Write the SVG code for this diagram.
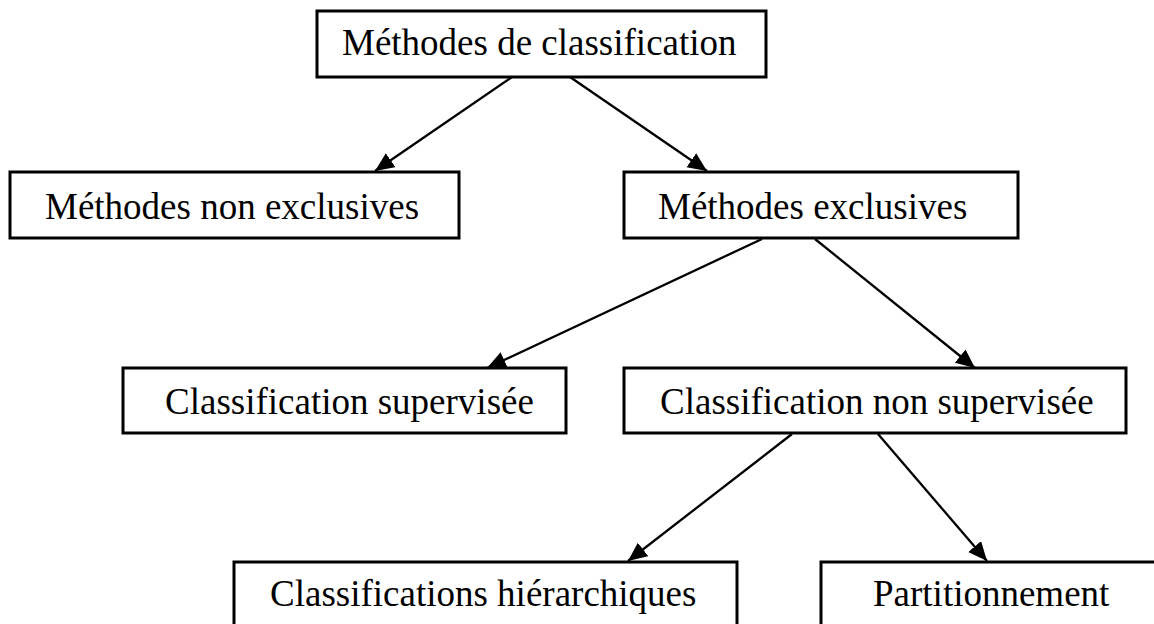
<svg xmlns="http://www.w3.org/2000/svg" width="1154" height="624" viewBox="0 0 1154 624">
  <style>
    .box { fill: #fff; stroke: #000; stroke-width: 3; }
    .lbl { font-family: "Liberation Serif", "Times New Roman", serif; font-size: 37px; fill: #000; }
    .edge { stroke: #000; stroke-width: 2.3; fill: none; marker-end: url(#head); }
  </style>
  <defs>
    <marker id="head" markerUnits="userSpaceOnUse" markerWidth="20" markerHeight="18" refX="19" refY="8.5" orient="auto">
      <path d="M0,0 L19,8.5 L0,17 z" fill="#000"/>
    </marker>
  </defs>
  <rect width="1154" height="624" fill="#fff"/>

  <g id="connectors">
    <line class="edge" x1="512" y1="77" x2="375" y2="171"/>
    <line class="edge" x1="570" y1="77" x2="707" y2="171"/>
    <line class="edge" x1="762" y1="239" x2="487" y2="368"/>
    <line class="edge" x1="815" y1="239" x2="975" y2="368"/>
    <line class="edge" x1="792" y1="434" x2="628" y2="561"/>
    <line class="edge" x1="878" y1="434" x2="987" y2="561"/>
  </g>

  <g id="methodes-classification">
    <rect class="box" x="317" y="11" width="449" height="66"/>
    <text class="lbl" x="342" y="55">Méthodes de classification</text>
  </g>
  <g id="methodes-non-exclusives">
    <rect class="box" x="10" y="172" width="449" height="66"/>
    <text class="lbl" x="45" y="219">Méthodes non exclusives</text>
  </g>
  <g id="methodes-exclusives">
    <rect class="box" x="624" y="172" width="394" height="66"/>
    <text class="lbl" x="658" y="219">Méthodes exclusives</text>
  </g>
  <g id="classification-supervisee">
    <rect class="box" x="123" y="368" width="443" height="65"/>
    <text class="lbl" x="165" y="414">Classification supervisée</text>
  </g>
  <g id="classification-non-supervisee">
    <rect class="box" x="624" y="368" width="502" height="65"/>
    <text class="lbl" x="660" y="414">Classification non supervisée</text>
  </g>
  <g id="classifications-hierarchiques">
    <rect class="box" x="234" y="562" width="503" height="80"/>
    <text class="lbl" x="270" y="606">Classifications hiérarchiques</text>
  </g>
  <g id="partitionnement">
    <rect class="box" x="821" y="562" width="350" height="80"/>
    <text class="lbl" x="873" y="606">Partitionnement</text>
  </g>
</svg>
